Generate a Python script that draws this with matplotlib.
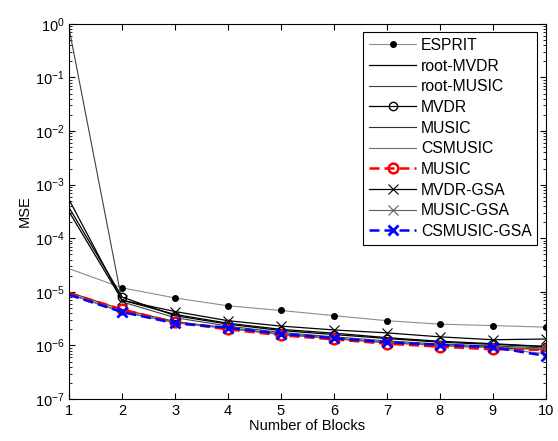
import matplotlib
matplotlib.use("Agg")
import matplotlib.pyplot as plt
import numpy as np

plt.rcParams.update({
    "font.family": ["Liberation Sans", "DejaVu Sans"],
    "font.size": 10.5,
    "axes.linewidth": 0.8,
})

blocks = np.arange(1, 11)

esprit = [2.7e-5, 1.19e-5, 7.7e-6, 5.5e-6, 4.5e-6, 3.6e-6, 2.9e-6, 2.5e-6, 2.35e-6, 2.2e-6]
root_mvdr = [5.2e-4, 7.0e-6, 3.8e-6, 2.6e-6, 2.0e-6, 1.7e-6, 1.4e-6, 1.2e-6, 1.08e-6, 9.6e-7]
root_music = [0.8, 6.5e-6, 3.3e-6, 2.3e-6, 1.75e-6, 1.45e-6, 1.22e-6, 1.06e-6, 9.8e-7, 9.0e-7]
mvdr = [3.7e-4, 8.0e-6, 3.6e-6, 2.5e-6, 1.9e-6, 1.6e-6, 1.35e-6, 1.15e-6, 1.05e-6, 9.5e-7]
music = [9.8e-6, 4.7e-6, 2.8e-6, 2.1e-6, 1.6e-6, 1.35e-6, 1.13e-6, 1.0e-6, 9.0e-7, 8.4e-7]
csmusic = [9.0e-6, 4.2e-6, 2.65e-6, 2.05e-6, 1.6e-6, 1.33e-6, 1.12e-6, 1.0e-6, 9.0e-7, 7.0e-7]
music_red = [9.5e-6, 4.7e-6, 2.7e-6, 2.0e-6, 1.55e-6, 1.3e-6, 1.08e-6, 9.5e-7, 8.5e-7, 8.3e-7]
mvdr_gsa = [3.1e-4, 7.0e-6, 4.3e-6, 2.9e-6, 2.3e-6, 1.95e-6, 1.72e-6, 1.45e-6, 1.28e-6, 1.32e-6]
music_gsa = [9.2e-6, 4.3e-6, 2.7e-6, 2.15e-6, 1.65e-6, 1.38e-6, 1.15e-6, 1.03e-6, 9.4e-7, 8.5e-7]
csmusic_gsa = [8.8e-6, 4.2e-6, 2.6e-6, 2.15e-6, 1.65e-6, 1.37e-6, 1.15e-6, 1.03e-6, 9.3e-7, 6.4e-7]

fig = plt.figure(figsize=(5.58, 4.41), dpi=100)
ax = fig.add_axes([0.124, 0.095, 0.854, 0.851])

# no marker drawn at the first block in the original
mk = slice(1, None)

ax.semilogy(blocks, esprit, color="#8c8c8c", lw=0.8, marker="o", ms=4,
            mfc="black", mec="black", markevery=mk, label="ESPRIT")
ax.semilogy(blocks, root_mvdr, color="black", lw=0.9, label="root-MVDR")
ax.semilogy(blocks, root_music, color="#404040", lw=0.8, label="root-MUSIC")
ax.semilogy(blocks, mvdr, color="black", lw=0.9, marker="o", ms=6,
            mfc="none", mec="black", markevery=mk, label="MVDR")
ax.semilogy(blocks, music, color="#303030", lw=0.8, label="MUSIC")
ax.semilogy(blocks, csmusic, color="#707070", lw=0.8, label="CSMUSIC")
ax.semilogy(blocks, music_red, color="red", lw=1.8, ls="--", dashes=(4, 2),
            marker="o", ms=7, mfc="none", mec="red", mew=1.8, markevery=mk,
            label="MUSIC")
ax.semilogy(blocks, mvdr_gsa, color="black", lw=0.9, marker="x", ms=7,
            mew=0.8, markevery=mk, label="MVDR-GSA")
ax.semilogy(blocks, music_gsa, color="#606060", lw=0.8, marker="x", ms=7,
            mew=0.8, markevery=mk, label="MUSIC-GSA")
ax.semilogy(blocks, csmusic_gsa, color="blue", lw=1.8, ls="--", dashes=(4, 2),
            marker="x", ms=7, mew=2.0, markevery=mk, label="CSMUSIC-GSA")

ax.set_xlim(1, 10)
ax.set_ylim(1e-7, 1)
ax.set_xticks(blocks)
ax.set_xlabel("Number of Blocks", labelpad=1)
ax.set_ylabel("MSE", labelpad=2)
ax.tick_params(which="both", direction="in", top=True, right=True)
ax.tick_params(which="major", length=4)
ax.tick_params(which="minor", length=2)

leg = ax.legend(loc="upper left", bbox_to_anchor=(0.616, 0.979, 0.365, 0.0),
                mode="expand", fancybox=False, edgecolor="black",
                framealpha=1, fontsize=11.3, handlelength=3.0,
                handletextpad=0.3, labelspacing=0.36, borderpad=0.4,
                borderaxespad=0)
leg.get_frame().set_linewidth(0.8)

fig.savefig("out.png", dpi=100)
